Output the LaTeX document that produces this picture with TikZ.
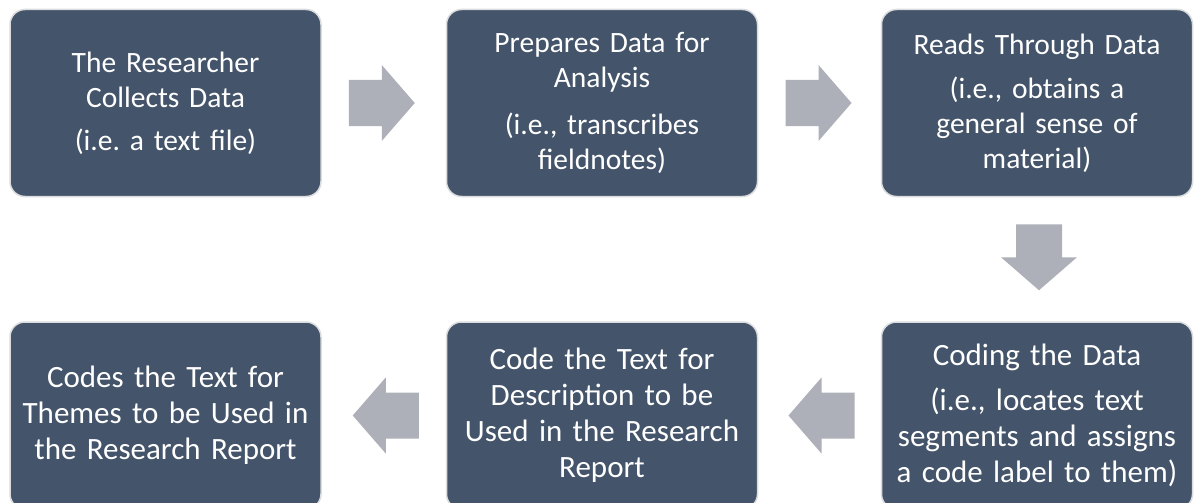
\documentclass[tikz,border=0pt]{standalone}
\usepackage{fontspec}
\setmainfont{Carlito}
\usetikzlibrary{calc}
\frenchspacing
\definecolor{boxfill}{RGB}{68,84,106}
\definecolor{boxline}{RGB}{218,220,222}
\definecolor{arrowfill}{RGB}{173,176,184}
\tikzset{
  stepbox/.style={rectangle, rounded corners=15pt, fill=boxfill, draw=boxline, line width=1.5pt,
    minimum width=311pt, minimum height=187pt, inner sep=0pt, text width=305pt, align=center,
    text=white, font=\fontsize{29.5}{35}\selectfont},
  lowbox/.style={stepbox, font=\fontsize{31}{36}\selectfont},
  blockarrow/.pic={\fill[arrowfill] (-33,-23) -- (0,-23) -- (0,-38) -- (33,0) -- (0,38) -- (0,23) -- (-33,23) -- cycle;}
}
\begin{document}
\begin{tikzpicture}[x=1pt,y=-1pt]
\useasboundingbox (0,0) rectangle (1200,503);
\fill[white] (0,0) rectangle (1200,503);
\begin{scope}
\clip (0,0) rectangle (1200,503);
\node[stepbox] (b1) at (165.5,103) {The Researcher\\Collects Data\\[8pt](i.e. a text file)};
\node[stepbox] (b2) at (602,103) {Prepares Data for\\Analysis\\[12pt](i.e., transcribes\\fieldnotes)};
\node[stepbox] (b3) at (1037,103) {Reads Through Data\\[9pt](i.e., obtains a\\general sense of\\material)};
\node[lowbox] (b4) at (1037,415.5) {Coding the Data\\[9pt](i.e., locates text\\segments and assigns\\a code label to them)};
\node[lowbox] (b5) at (602,415.5) {Code the Text for\\Description to be\\Used in the Research\\Report};
\node[lowbox] (b6) at (165.5,415.5) {Codes the Text for\\Themes to be Used in\\the Research Report};
\end{scope}
\coordinate (m12) at ($(b1.east)!0.5!(b2.west)+(-2,0)$);
\coordinate (m23) at ($(b2.east)!0.5!(b3.west)+(-1,0)$);
\coordinate (m34) at ($(b3.south)!0.5!(b4.north)+(2,-2)$);
\coordinate (m45) at ($(b4.west)!0.5!(b5.east)+(2,0)$);
\coordinate (m56) at ($(b5.west)!0.5!(b6.east)+(2,0)$);
\pic at (m12) {blockarrow};
\pic at (m23) {blockarrow};
\pic[rotate=-90] at (m34) {blockarrow};
\pic[rotate=180] at (m45) {blockarrow};
\pic[rotate=180] at (m56) {blockarrow};
\end{tikzpicture}
\end{document}
